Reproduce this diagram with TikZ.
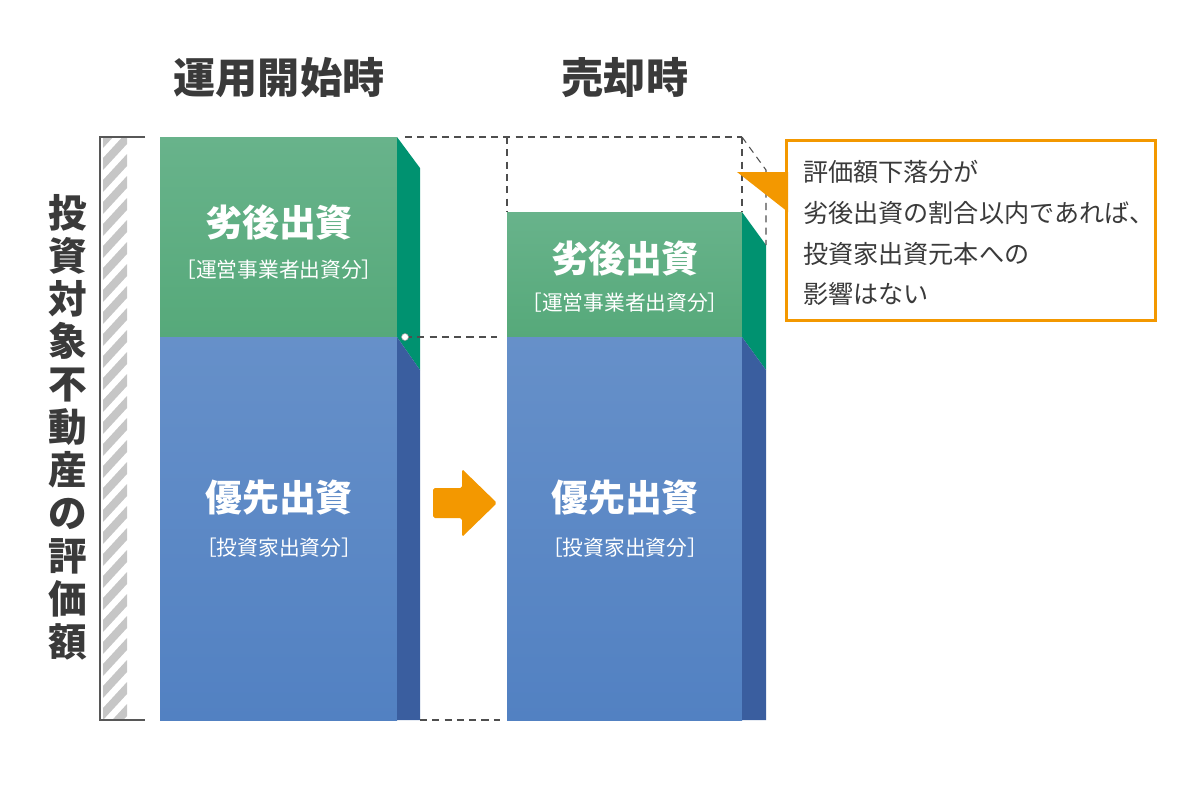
\documentclass[tikz,border=0pt]{standalone}
\usepackage{fontspec}
\setmainfont{Noto Sans CJK JP}
\usepackage{tikz}
\definecolor{txt}{HTML}{3A3A3A}
\definecolor{grnF}{HTML}{56A97A}
\definecolor{grnL}{HTML}{68B38B}
\definecolor{grnS}{HTML}{009270}
\definecolor{bluF}{HTML}{5281C2}
\definecolor{bluL}{HTML}{6690C9}
\definecolor{bluS}{HTML}{3A5E9F}
\definecolor{orng}{HTML}{F39800}
\definecolor{hatch}{HTML}{C6C6C6}

\begin{document}
\begin{tikzpicture}[x=0.02cm, y=-0.02cm,
  every node/.style={text=txt},
  title/.style={font=\fontsize{24}{28}\selectfont\bfseries},
  big/.style={text=white, font=\fontsize{21}{24}\selectfont\bfseries},
  small/.style={text=white, font=\fontsize{11.8}{14}\selectfont},
  dash line/.style={draw=txt!90, line width=0.6pt, dash pattern=on 4pt off 3pt}]
\useasboundingbox (0,0) rectangle (1200,792);
% corners of the two columns
\coordinate (l1) at (160,137);
\coordinate (l2) at (397,137);
\coordinate (l3) at (420,168);
\coordinate (lm) at (397,337);
\coordinate (lb) at (420,720);
\coordinate (r1) at (507,212);
\coordinate (r2) at (742,212);
\coordinate (rt1) at (507,137);
\coordinate (rt2) at (742,137);
\coordinate (rt3) at (766,170);
\coordinate (r3) at (766,245);
\coordinate (rm) at (742,337);
% left column
\shade[top color=grnL, bottom color=grnF] (l1) rectangle (lm);
\shade[top color=bluL, bottom color=bluF] (160,337) rectangle (397,720);
\fill[grnS] (l2) -- (l3) -- (420,370) -- (lm) -- cycle;
\fill[bluS] (lm) -- (420,370) -- (lb) -- (397,720) -- cycle;
% right column
\shade[top color=grnL, bottom color=grnF] (r1) rectangle (rm);
\shade[top color=bluL, bottom color=bluF] (507,337) rectangle (742,720);
\fill[grnS] (r2) -- (r3) -- (766,370) -- (rm) -- cycle;
\fill[bluS] (rm) -- (766,370) -- (766,720) -- (742,720) -- cycle;
% dashed guides
\coordinate (d1) at (405,137);
\coordinate (d2) at (405,337);
\coordinate (d3) at (497,337);
\coordinate (d4) at (500,720);
\draw[dash line] (d1) -- (rt2);
\draw[dash line] (rt1) -- (r1);
\draw[dash line] (rt2) -- (r2);
\draw[dash line] (rt2) -- (rt3) -- (r3);
\draw[dash line] (d2) -- (d3);
\draw[dash line] (lb) -- (d4);
\filldraw[fill=white, draw=txt!50, line width=0.3pt] (d2) circle (3.5);
% scale bar with hatching
\begin{scope}
\clip (103,137) rectangle (127,720);
\foreach \y in {110,132,...,740}
  \fill[hatch] (103,\y+26) -- (127,\y) -- (127,\y+12) -- (103,\y+38) -- cycle;
\end{scope}
\coordinate (s1) at (145,137);
\coordinate (s2) at (145,720);
\draw[txt!85, line width=0.8pt] (s1) -- (100,137) -- (100,720) -- (s2);
\node[font=\fontsize{22}{24.4}\selectfont\bfseries, align=center] (val) at (68,427)
  {投\\資\\対\\象\\不\\動\\産\\の\\評\\価\\額};
% titles and labels
\node[title] (t1) at (279,78) {運用開始時};
\node[title] (t2) at (625,78) {売却時};
\node[big] (g1) at (279,222) {劣後出資};
\node[small] (gs1) at (279,270) {［運営事業者出資分］};
\node[big] (b1) at (279,498) {優先出資};
\node[small] (bs1) at (279,548) {［投資家出資分］};
\node[big] (g2) at (625,258) {劣後出資};
\node[small] (gs2) at (625,303) {［運営事業者出資分］};
\node[big] (b2) at (625,498) {優先出資};
\node[small] (bs2) at (625,548) {［投資家出資分］};
% arrow
\fill[orng, rounded corners=1pt] (433,488) -- (462,488) -- (462,469) -- (497,503)
  -- (462,537) -- (462,518) -- (433,518) -- cycle;
% callout
\coordinate (tip) at (737,172);
\draw[orng, fill=white, line width=1.7pt] (786,140) rectangle (1155,320);
\fill[orng] (tip) -- (788,172) -- (788,212) -- cycle;
\node[anchor=west, align=left, font=\fontsize{14.3}{23.2}\selectfont] (note) at (797,233)
  {評価額下落分が\\劣後出資の割合以内であれば、\\投資家出資元本への\\影響はない};
\end{tikzpicture}
\end{document}
